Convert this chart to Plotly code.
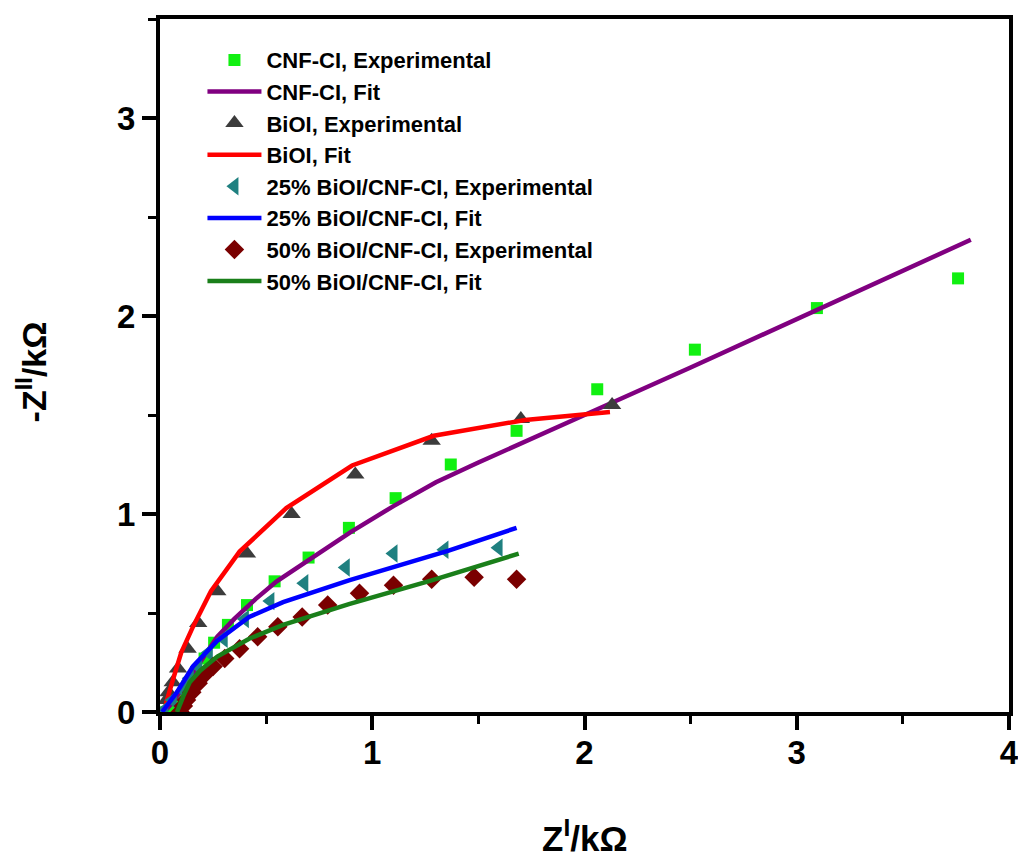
import plotly.graph_objects as go

# CNF-CI
cnf_exp_x = [0.03, 0.06, 0.09, 0.13, 0.17, 0.21, 0.255, 0.32, 0.41, 0.54, 0.70, 0.89, 1.11, 1.37, 1.68, 2.06, 2.52, 3.095, 3.76]
cnf_exp_y = [0.00, 0.03, 0.07, 0.13, 0.20, 0.27, 0.35, 0.44, 0.54, 0.66, 0.78, 0.93, 1.08, 1.25, 1.42, 1.63, 1.83, 2.04, 2.19]
cnf_fit_x = [0.02, 0.06, 0.10, 0.15, 0.20, 0.27, 0.35, 0.45, 0.55, 0.70, 0.90, 1.10, 1.30, 1.50, 1.83, 2.00, 2.50, 3.00, 3.50, 3.82]
cnf_fit_y = [0.00, 0.05, 0.11, 0.19, 0.27, 0.38, 0.47, 0.57, 0.66, 0.77, 0.91, 1.04, 1.16, 1.26, 1.415, 1.50, 1.74, 1.985, 2.23, 2.385]

# BiOI
bioi_exp_x = [0.03, 0.04, 0.06, 0.085, 0.13, 0.18, 0.27, 0.41, 0.62, 0.92, 1.28, 1.70, 2.13]
bioi_exp_y = [0.06, 0.10, 0.15, 0.22, 0.32, 0.45, 0.61, 0.80, 1.00, 1.20, 1.37, 1.48, 1.55]
bioi_fit_x = [0.02, 0.03, 0.06, 0.10, 0.155, 0.24, 0.375, 0.595, 0.905, 1.29, 1.72, 2.12]
bioi_fit_y = [0.00, 0.05, 0.16, 0.30, 0.43, 0.61, 0.81, 1.03, 1.245, 1.395, 1.475, 1.515]

# 25% BiOI/CNF-CI
b25_exp_x = [0.02, 0.06, 0.11, 0.14, 0.18, 0.23, 0.30, 0.40, 0.52, 0.68, 0.875, 1.10, 1.34, 1.595]
b25_exp_y = [0.01, 0.06, 0.11, 0.17, 0.23, 0.30, 0.37, 0.47, 0.56, 0.65, 0.73, 0.80, 0.82, 0.83]
b25_fit_x = [0.01, 0.03, 0.08, 0.155, 0.27, 0.42, 0.58, 0.89, 1.10, 1.36, 1.68]
b25_fit_y = [0.00, 0.03, 0.10, 0.23, 0.36, 0.48, 0.555, 0.665, 0.73, 0.815, 0.93]

# 50% BiOI/CNF-CI
b50_exp_x = [0.095, 0.11, 0.125, 0.15, 0.18, 0.21, 0.25, 0.305, 0.375, 0.46, 0.555, 0.67, 0.79, 0.94, 1.10, 1.28, 1.48, 1.68]
b50_exp_y = [0.00, 0.03, 0.06, 0.10, 0.145, 0.19, 0.23, 0.27, 0.32, 0.38, 0.43, 0.48, 0.54, 0.60, 0.64, 0.67, 0.68, 0.67]
b50_fit_x = [0.08, 0.09, 0.11, 0.14, 0.19, 0.27, 0.42, 0.58, 0.89, 1.28, 1.69]
b50_fit_y = [0.00, 0.03, 0.08, 0.15, 0.21, 0.28, 0.37, 0.44, 0.545, 0.665, 0.80]

x_ticks = [0, 1, 2, 3, 4]
y_ticks = [0, 1, 2, 3]

LW = 4.5
fig = go.Figure()
fig.add_trace(go.Scatter(x=cnf_exp_x, y=cnf_exp_y, mode="markers", name="CNF-CI, Experimental",
                         marker=dict(symbol="square", size=12, color="#11f011")))
fig.add_trace(go.Scatter(x=cnf_fit_x, y=cnf_fit_y, mode="lines", name="CNF-CI, Fit",
                         line=dict(color="#800080", width=LW)))
fig.add_trace(go.Scatter(x=bioi_exp_x, y=bioi_exp_y, mode="markers", name="BiOI, Experimental",
                         marker=dict(symbol="triangle-up", size=16, color="#3c3c3c")))
fig.add_trace(go.Scatter(x=bioi_fit_x, y=bioi_fit_y, mode="lines", name="BiOI, Fit",
                         line=dict(color="#ff0000", width=LW)))
fig.add_trace(go.Scatter(x=b25_exp_x, y=b25_exp_y, mode="markers", name="25% BiOI/CNF-CI, Experimental",
                         marker=dict(symbol="triangle-left", size=16, color="#1f8080")))
fig.add_trace(go.Scatter(x=b25_fit_x, y=b25_fit_y, mode="lines", name="25% BiOI/CNF-CI, Fit",
                         line=dict(color="#0000ff", width=LW)))
fig.add_trace(go.Scatter(x=b50_exp_x, y=b50_exp_y, mode="markers", name="50% BiOI/CNF-CI, Experimental",
                         marker=dict(symbol="diamond", size=15, color="#7a0000")))
fig.add_trace(go.Scatter(x=b50_fit_x, y=b50_fit_y, mode="lines", name="50% BiOI/CNF-CI, Fit",
                         line=dict(color="#1a7f1a", width=LW)))

FONT = "Liberation Sans, Arial, sans-serif"
axis_common = dict(showline=True, linewidth=4, linecolor="black", mirror=True,
                   ticks="outside", ticklen=14, tickwidth=4, tickcolor="black",
                   showgrid=False, zeroline=False,
                   tickfont=dict(family=FONT, size=33, color="black", weight="bold"),
                   minor=dict(ticks="outside", ticklen=8, tickwidth=3, tickcolor="black", dtick=0.5))

fig.update_layout(
    width=1018, height=851,
    margin=dict(l=152, r=13, t=7, b=147),
    paper_bgcolor="white", plot_bgcolor="white",
    font=dict(family=FONT, color="black"),
    showlegend=True,
    legend=dict(x=0.05, y=0.971, xanchor="left", yanchor="top",
                bgcolor="rgba(0,0,0,0)", borderwidth=0,
                font=dict(family=FONT, size=22, color="black", weight="bold"),
                tracegroupgap=0, itemwidth=54),
    xaxis=dict(range=[0, 4], tickvals=x_ticks, ticklabelstandoff=-6, **axis_common),
    yaxis=dict(range=[0, 3.5], tickvals=y_ticks, ticklabelstandoff=0, **axis_common),
    annotations=[
        dict(text="<b>Z<sup>I</sup>/kΩ</b>", xref="paper", yref="paper", x=0.5, y=0,
             xanchor="center", yanchor="middle", yshift=-(836 - 712), showarrow=False,
             font=dict(family=FONT, size=35, color="black")),
        dict(text="<b>-Z<sup>II</sup>/kΩ</b>", xref="paper", yref="paper", x=0, y=0.49,
             xanchor="center", yanchor="middle", xshift=-129, textangle=-90, showarrow=False,
             font=dict(family=FONT, size=34, color="black")),
    ],
)

fig.write_html("out.html")
